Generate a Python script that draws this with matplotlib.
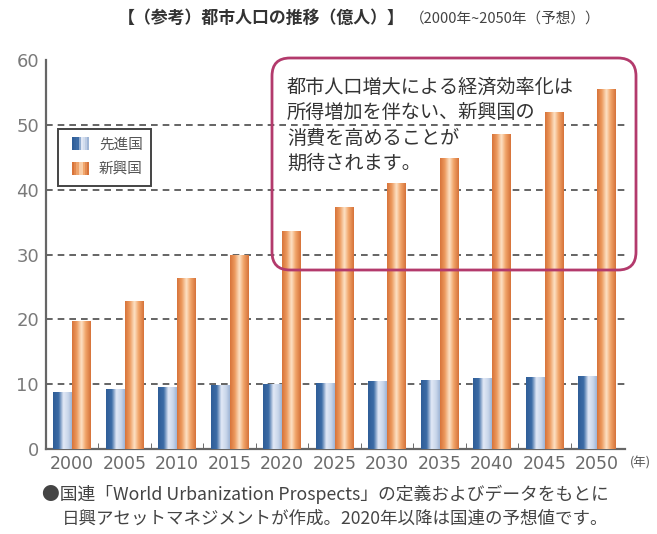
import numpy as np
import matplotlib
matplotlib.use('Agg')
from matplotlib import pyplot as plt
from matplotlib.colors import LinearSegmentedColormap
from matplotlib.patches import FancyBboxPatch, Rectangle, Patch
from matplotlib.legend_handler import HandlerBase

plt.rcParams['font.family'] = ['Noto Sans CJK JP', 'DejaVu Sans']

# data (億人)
years = ['2000', '2005', '2010', '2015', '2020', '2025', '2030', '2035', '2040', '2045', '2050']
developed = [8.8, 9.2, 9.6, 9.9, 10.0, 10.2, 10.5, 10.7, 10.9, 11.1, 11.2]
emerging = [19.8, 22.8, 26.4, 30.0, 33.6, 37.4, 41.0, 44.9, 48.6, 52.0, 55.5]
series_names = ['先進国', '新興国']

title_main = '【（参考）都市人口の推移（億人）】'
title_sub = '（2000年~2050年（予想））'
note_lines = ['都市人口増大による経済効率化は', '所得増加を伴ない、新興国の', '消費を高めることが', '期待されます。']
foot_lines = ['●国連「World Urbanization Prospects」の定義およびデータをもとに',
              '日興アセットマネジメントが作成。2020年以降は国連の予想値です。']

W, H = 657, 534
blue_cm = LinearSegmentedColormap.from_list('b', [(0, '#2f5e98'), (0.3, '#3d6ca6'), (0.55, '#e2e9f6'),
                                                  (0.8, '#c9d6ea'), (1, '#9fb5d5')])
orange_cm = LinearSegmentedColormap.from_list('o', [(0, '#d8743a'), (0.25, '#ec9a5e'), (0.5, '#fde2c6'),
                                                    (0.72, '#f1a56a'), (1, '#d6733a')])


def fx(x):
    return x / W


def fy(y):
    return 1 - y / H


def gradient_bars(ax, bars, cmap):
    grad = np.linspace(0, 1, 64).reshape(1, -1)
    for b in bars:
        x0, y0 = b.get_x(), b.get_y()
        w, h = b.get_width(), b.get_height()
        b.set_facecolor('none')
        b.set_edgecolor('none')
        im = ax.imshow(grad, cmap=cmap, extent=[x0, x0 + w, y0, y0 + h], aspect='auto',
                       interpolation='bilinear', zorder=3)
        im.set_clip_path(b)


class GradHandler(HandlerBase):
    def __init__(self, cmap):
        super().__init__()
        self.cmap = cmap

    def create_artists(self, legend, orig_handle, xdescent, ydescent, width, height, fontsize, trans):
        n = 8
        w = 12
        x0 = xdescent + 4
        out = []
        for i in range(n):
            out.append(Rectangle((x0 + i * w / n, -ydescent - 1), w / n, height + 2,
                                 facecolor=self.cmap(i / (n - 1)), edgecolor='none', transform=trans))
        return out


fig = plt.figure(figsize=(6.57, 5.34), dpi=100)
ax = fig.add_axes([fx(46), fy(449), fx(625) - fx(46), fy(60) - fy(449)])

x = np.arange(len(years))
bw = 0.36
b1 = ax.bar(x - bw / 2, developed, bw, zorder=3)
b2 = ax.bar(x + bw / 2, emerging, bw, zorder=3)
gradient_bars(ax, b1, blue_cm)
gradient_bars(ax, b2, orange_cm)

for v in [10, 20, 30, 40, 50]:
    ax.axhline(v, color='#4a4a4a', lw=1.2, ls=(0, (4, 3)), zorder=1)

ax.set_xlim(-0.495, 10.53)
ax.set_ylim(0, 60)
ax.set_yticks([0, 10, 20, 30, 40, 50, 60])
ax.set_xticks(x)
ax.set_xticklabels(years)
ax.set_xticks(x[:-1] + 0.5, minor=True)
ax.tick_params(axis='y', length=0, labelsize=13, labelcolor='#7a7a7a', pad=5)
ax.tick_params(axis='x', which='major', length=0, labelsize=12.5, labelcolor='#6a6a6a', pad=4)
ax.tick_params(axis='x', which='minor', direction='in', length=4, color='#555555')
for s in ['top', 'right']:
    ax.spines[s].set_visible(False)
for s in ['left', 'bottom']:
    ax.spines[s].set_color('#666666')
    ax.spines[s].set_linewidth(1.6)
for lab in ax.get_xticklabels() + ax.get_yticklabels():
    lab.set_family('DejaVu Sans')

fig.text(fx(630), fy(463), '(年)', fontsize=9, color='#555555', va='center')

hs = [Patch(label=series_names[0]), Patch(label=series_names[1])]
leg = ax.legend(hs, series_names,
                handler_map={hs[0]: GradHandler(blue_cm), hs[1]: GradHandler(orange_cm)},
                loc='upper left', bbox_to_anchor=(fx(58), fy(129)), bbox_transform=fig.transFigure,
                fancybox=False, edgecolor='#444444', framealpha=1, fontsize=10.5,
                handlelength=1.6, handletextpad=0.6, borderpad=0.6, labelspacing=0.75,
                borderaxespad=0)
leg.get_frame().set_linewidth(1.4)
leg.set_zorder(5)
for t in leg.get_texts():
    t.set_color('#555555')

fig.text(fx(118), fy(18), title_main, fontsize=12.2, fontweight='bold', color='#333333', va='center')
fig.text(fx(410), fy(19), title_sub, fontsize=10.5, color='#444444', va='center')

box = FancyBboxPatch((2.72, (H - 270) / 100), 3.64, 2.12, boxstyle='round,pad=0,rounding_size=0.18',
                     transform=fig.dpi_scale_trans, ec='#b33a6c', fc='none', lw=2, zorder=6)
fig.add_artist(box)
for i, line in enumerate(note_lines):
    fig.text(fx(287), fy(87 + i * 25.5), line, fontsize=13.8, color='#333333', va='center')

fig.text(fx(42), fy(494), foot_lines[0], fontsize=12.8, color='#444444', va='center')
fig.text(fx(62), fy(519), foot_lines[1], fontsize=12.6, color='#444444', va='center')

fig.savefig('out.png', dpi=100)
